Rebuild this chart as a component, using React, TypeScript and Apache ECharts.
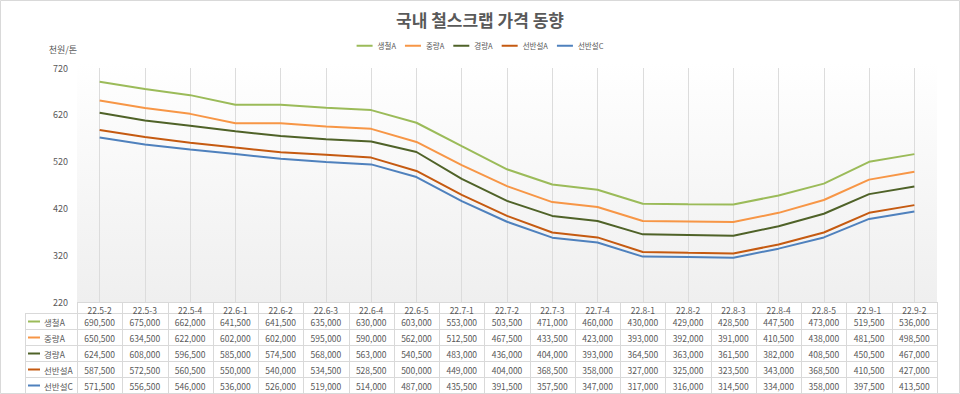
import React, { useEffect, useRef } from "react";
import * as echarts from "echarts";

const title = "국내 철스크랩 가격 동향";
const unitLabel = "천원/톤";
const categories = [
  "22.5-2", "22.5-3", "22.5-4", "22.6-1", "22.6-2", "22.6-3", "22.6-4", "22.6-5",
  "22.7-1", "22.7-2", "22.7-3", "22.7-4", "22.8-1", "22.8-2", "22.8-3", "22.8-4",
  "22.8-5", "22.9-1", "22.9-2",
];
const seriesNames = ["생철A", "중량A", "경량A", "선반설A", "선반설C"];
const seriesColors = ["#9bbb59", "#f79646", "#4f6228", "#c55a11", "#4f81bd"];
const scrapA = [690500, 675000, 662000, 641500, 641500, 635000, 630000, 603000, 553000, 503500, 471000, 460000, 430000, 429000, 428500, 447500, 473000, 519500, 536000];
const heavyA = [650500, 634500, 622000, 602000, 602000, 595000, 590000, 562000, 512500, 467500, 433500, 423000, 393000, 392000, 391000, 410500, 438000, 481500, 498500];
const lightA = [624500, 608000, 596500, 585000, 574500, 568000, 563000, 540500, 483000, 436000, 404000, 393000, 364500, 363000, 361500, 382000, 408500, 450500, 467000];
const turningA = [587500, 572500, 560500, 550000, 540000, 534500, 528500, 500000, 449000, 404000, 368500, 358000, 327000, 325000, 323500, 343000, 368500, 410500, 427000];
const turningC = [571500, 556500, 546000, 536000, 526000, 519000, 514000, 487000, 435500, 391500, 357500, 347000, 317000, 316000, 314500, 334000, 358000, 397500, 413500];
const seriesData = [scrapA, heavyA, lightA, turningA, turningC];
const yMin = 220;
const yMax = 720;
const yInterval = 100;

const FONT = "'Noto Sans CJK KR', 'Noto Sans', sans-serif";
const TEXT = "#595959";
const BORDER = "#d9d9d9";

export default function App() {
  const ref = useRef<HTMLDivElement>(null);
  useEffect(() => {
    document.body.style.margin = "0";
    const chart = echarts.init(ref.current!, null, { renderer: "svg" });

    const W = 960, H = 394;
    const gLeft = 77, gRight = 937, gTop = 68, gBottom = 302;
    const colW = (gRight - gLeft) / categories.length;
    const rowH = 16;
    const tableTop = 313;
    const rhLeft = 25;

    const graphics: any[] = [];
    graphics.push({
      type: "rect", z: -10, silent: true,
      shape: { x: gLeft, y: 62, width: gRight - gLeft, height: gBottom - 62 },
      style: {
        fill: new echarts.graphic.LinearGradient(0, 0, 0, 1, [
          { offset: 0, color: "#ffffff" },
          { offset: 1, color: "#efefef" },
        ]),
      },
    });
    graphics.push({ type: "rect", silent: true, shape: { x: 0.5, y: 0.5, width: W - 1, height: H - 1 }, style: { fill: "none", stroke: BORDER, lineWidth: 1 } });
    graphics.push({ type: "line", silent: true, shape: { x1: gLeft, y1: gBottom + 0.5, x2: gRight, y2: gBottom + 0.5 }, style: { stroke: BORDER, lineWidth: 1 } });
    for (let r = 0; r <= seriesNames.length; r++) {
      const y = tableTop + r * rowH + 0.5;
      graphics.push({ type: "line", silent: true, shape: { x1: rhLeft, y1: y, x2: gRight, y2: y }, style: { stroke: BORDER, lineWidth: 1 } });
    }
    const tableBottom = tableTop + seriesNames.length * rowH;
    graphics.push({ type: "line", silent: true, shape: { x1: rhLeft + 0.5, y1: tableTop, x2: rhLeft + 0.5, y2: tableBottom }, style: { stroke: BORDER, lineWidth: 1 } });
    for (let c = 0; c <= categories.length; c++) {
      const x = Math.round(gLeft + c * colW) + 0.5;
      graphics.push({ type: "line", silent: true, shape: { x1: x, y1: gBottom, x2: x, y2: tableBottom }, style: { stroke: BORDER, lineWidth: 1 } });
    }
    seriesNames.forEach((name, r) => {
      const cy = tableTop + r * rowH + rowH / 2 + 0.5;
      graphics.push({ type: "line", silent: true, shape: { x1: 28, y1: cy, x2: 40, y2: cy }, style: { stroke: seriesColors[r], lineWidth: 2 } });
      graphics.push({ type: "text", silent: true, x: 44, y: cy, style: { text: name, fill: TEXT, font: `8.5px ${FONT}`, verticalAlign: "middle", align: "left" } });
      seriesData[r].forEach((v, c) => {
        graphics.push({
          type: "text", silent: true,
          x: gLeft + (c + 0.5) * colW, y: cy,
          style: { text: v.toLocaleString("en-US"), fill: TEXT, font: `8.5px ${FONT}`, align: "center", verticalAlign: "middle" },
        });
      });
    });

    chart.setOption({
      animation: false,
      backgroundColor: "#ffffff",
      title: {
        text: title, left: "center", top: 6,
        textStyle: { fontFamily: FONT, fontSize: 17, fontWeight: "bold", color: TEXT },
      },
      legend: {
        data: seriesNames, top: 37, left: "center",
        icon: "rect", itemWidth: 16, itemHeight: 2, itemGap: 9,
        textStyle: { fontFamily: FONT, fontSize: 7.5, color: TEXT },
      },
      grid: { left: gLeft, right: W - gRight, top: gTop, bottom: H - gBottom },
      xAxis: {
        type: "category", data: categories, boundaryGap: true,
        axisLine: { show: false }, axisTick: { show: false },
        axisLabel: { fontFamily: FONT, fontSize: 8.5, color: TEXT, margin: 3, interval: 0, lineHeight: 10 },
        splitLine: { show: true, alignWithLabel: true, lineStyle: { color: "#dcdcdc", width: 1 } },
      },
      yAxis: {
        type: "value", min: yMin, max: yMax, interval: yInterval,
        name: unitLabel, nameLocation: "end", nameGap: 14,
        nameTextStyle: { fontFamily: FONT, fontSize: 9, color: TEXT, align: "right", padding: [0, 0, 0, 0] },
        axisLine: { show: false }, axisTick: { show: false },
        axisLabel: { fontFamily: FONT, fontSize: 9, color: TEXT, margin: 9 },
        splitLine: { show: false },
      },
      series: seriesNames.map((name, i) => ({
        name, type: "line", symbol: "none",
        data: seriesData[i].map((v) => v / 1000),
        lineStyle: { color: seriesColors[i], width: 2 },
        itemStyle: { color: seriesColors[i] },
      })),
      graphic: graphics,
    });
    return () => chart.dispose();
  }, []);
  return <div ref={ref} style={{ width: 960, height: 394 }} />;
}
